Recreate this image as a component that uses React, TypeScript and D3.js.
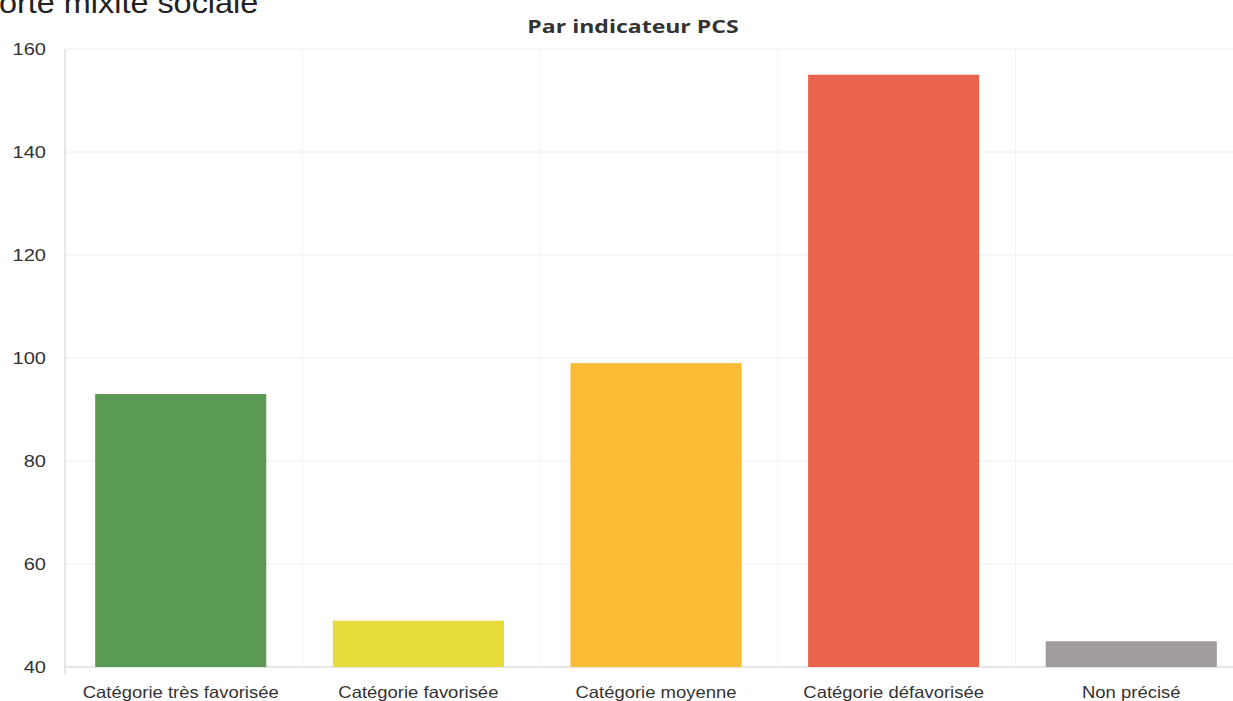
import React, { useEffect, useRef } from 'react';
import * as d3 from 'd3';

const categories = [
  'Catégorie très favorisée',
  'Catégorie favorisée',
  'Catégorie moyenne',
  'Catégorie défavorisée',
  'Non précisé',
];
const values = [93, 49, 99, 155, 45];
const colors = ['#5a9a52', '#e6dc3c', '#fbbb35', '#e9634f', '#a09c9c'];
const yTicks = [40, 60, 80, 100, 120, 140, 160];

const width = 1233;
const height = 701;

export default function App() {
  const ref = useRef<SVGSVGElement>(null);

  useEffect(() => {
    if (!ref.current) return;
    const svg = d3.select(ref.current);
    svg.selectAll('*').remove();

    const margin = { top: 49, right: -14, bottom: 34, left: 65 };
    const w = width - margin.left - margin.right;
    const h = height - margin.top - margin.bottom;

    const x = d3.scaleBand().domain(categories).range([0, w]).paddingInner(0.28).paddingOuter(0.127);
    const y = d3.scaleLinear().domain([40, 160]).range([h, 0]);

    // the scan looks stretched sideways, so text gets a small x-scale
    const font = 'Liberation Sans, Arial, sans-serif';

    // cropped page heading
    svg.append('text')
      .attr('transform', 'translate(-1,13) scale(1.08,1)')
      .attr('font-family', font)
      .attr('font-size', '30px')
      .attr('fill', '#222')
      .text('orte mixité sociale');

    svg.append('text')
      .attr('transform', 'translate(633,33) scale(1.28,1)')
      .attr('text-anchor', 'middle')
      .attr('font-family', 'Open Sans, sans-serif')
      .attr('font-weight', 'bold')
      .attr('font-size', '18px')
      .attr('fill', '#333')
      .text('Par indicateur PCS');

    const g = svg.append('g').attr('transform', `translate(${margin.left},${margin.top})`);

    // Grid
    g.selectAll('.hgrid')
      .data(yTicks)
      .join('line')
      .attr('x1', 0).attr('x2', w)
      .attr('y1', (d) => y(d)).attr('y2', (d) => y(d))
      .attr('stroke', (d) => (d === 40 ? '#cfcfcf' : '#eeeeee'))
      .attr('stroke-width', 1);

    const step = x.step();
    g.selectAll('.vgrid')
      .data(d3.range(1, categories.length))
      .join('line')
      .attr('x1', (i) => i * step).attr('x2', (i) => i * step)
      .attr('y1', 0).attr('y2', h)
      .attr('stroke', '#f2f2f2');

    // axis line
    g.append('line')
      .attr('x1', 0).attr('x2', 0)
      .attr('y1', 0).attr('y2', h + 8)
      .attr('stroke', '#cfcfcf');

    // Bars
    g.selectAll('.bar')
      .data(values)
      .join('rect')
      .attr('x', (_, i) => x(categories[i])!)
      .attr('y', (d) => y(d))
      .attr('width', x.bandwidth())
      .attr('height', (d) => h - y(d))
      .attr('fill', (_, i) => colors[i]);

    // Y tick labels
    g.selectAll('.ylab')
      .data(yTicks)
      .join('text')
      .attr('transform', (d) => `translate(-19,${y(d)}) scale(1.18,1)`)
      .attr('dy', '0.35em')
      .attr('text-anchor', 'end')
      .attr('font-family', font)
      .attr('font-size', '17px')
      .attr('fill', '#333')
      .text((d) => d);

    // X labels
    g.selectAll('.xlab')
      .data(categories)
      .join('text')
      .attr('transform', (d) => `translate(${x(d)! + x.bandwidth() / 2},${h + 31}) scale(1.12,1)`)
      .attr('text-anchor', 'middle')
      .attr('font-family', font)
      .attr('font-size', '16.5px')
      .attr('fill', '#333')
      .text((d) => d);
  }, []);

  return (
    <svg
      ref={ref}
      width={width}
      height={height}
      style={{ position: 'fixed', top: 0, left: 0, background: '#fff' }}
    />
  );
}
